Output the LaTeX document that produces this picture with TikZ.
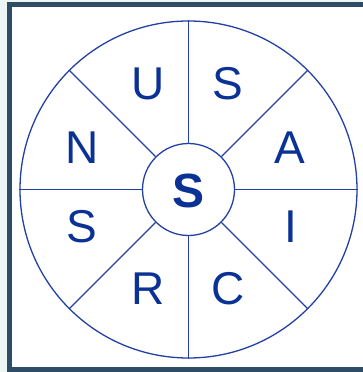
\documentclass[tikz,border=0pt]{standalone}
\usepackage{fontspec}
\setmainfont{Liberation Sans}
\definecolor{bgc}{RGB}{236,245,241}
\definecolor{framec}{RGB}{46,76,102}
\definecolor{linec}{RGB}{35,65,165}
\definecolor{textc}{RGB}{10,50,150}
\begin{document}
\begin{tikzpicture}[x=1pt,y=-1pt,
  spoke/.style={draw=linec,line width=1.3pt},
  letter/.style={text=textc,font=\fontsize{46}{46}\selectfont,inner sep=0pt,anchor=center}]
\useasboundingbox (0,0) rectangle (362,372);
\fill[bgc] (0,0) rectangle (362,372);
\draw[framec,line width=5pt,fill=white] (9.5,4) rectangle (366,369.5);
\coordinate (c) at (188.5,189.5);
\node[spoke,circle,minimum size=337pt,inner sep=0pt] (outer) at (c) {};
\node[spoke,circle,minimum size=92pt,inner sep=0pt] (inner) at (c) {};
\foreach \a in {0,45,...,315}{
  \draw[spoke] (inner.\a) -- (outer.\a);
}
\node[letter,font=\fontsize{48}{48}\selectfont\bfseries] (cs) at (189,191) {S};
\node[letter] (u) at (148,84) {U};
\node[letter] (s1) at (228,84) {S};
\node[letter] (n) at (82,148) {N};
\node[letter] (a) at (290,148) {A};
\node[letter] (s2) at (82,227) {S};
\node[letter] (i) at (291,227) {I};
\node[letter] (r) at (148,289) {R};
\node[letter] (cc) at (228,289) {C};
\end{tikzpicture}
\end{document}
